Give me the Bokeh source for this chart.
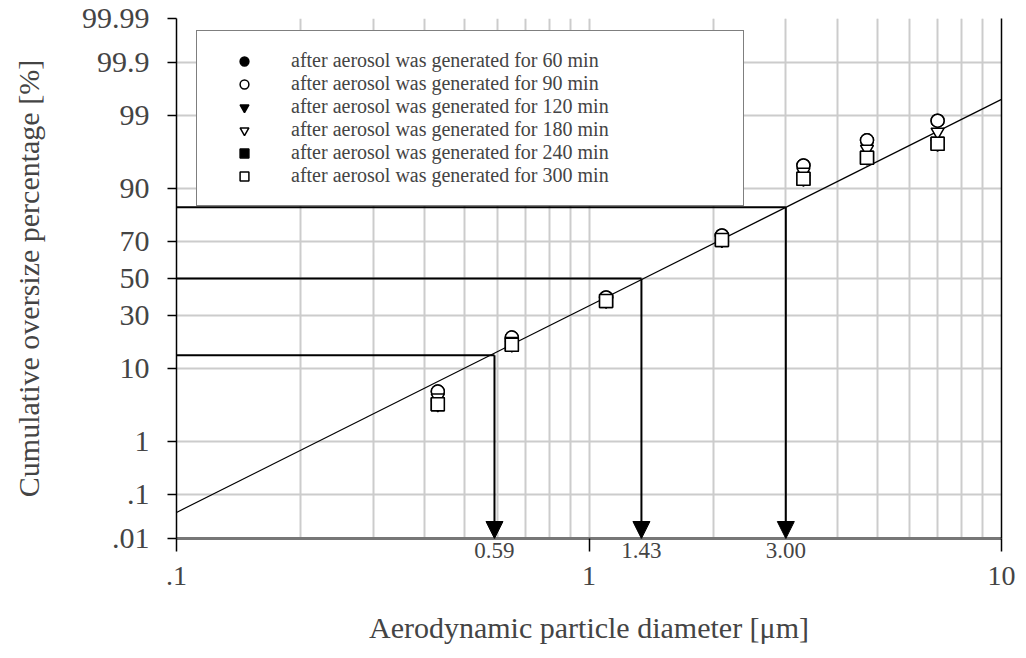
from statistics import NormalDist

from bokeh.plotting import figure
from bokeh.models import (Range1d, FixedTicker, LinearAxis, LogAxis, Legend, LegendItem,
                          Arrow, NormalHead, ColumnDataSource, Grid)
from bokeh.embed import file_html
from bokeh.resources import INLINE

_nd = NormalDist()


def probit(pct):
    return _nd.inv_cdf(pct / 100.0)


# ---------------- data ----------------
diameters = [0.43, 0.65, 1.10, 2.10, 3.31, 4.72, 7.0]

series_names = [
    "after aerosol was generated for 60 min",
    "after aerosol was generated for 90 min",
    "after aerosol was generated for 120 min",
    "after aerosol was generated for 180 min",
    "after aerosol was generated for 240 min",
    "after aerosol was generated for 300 min",
]
pct_60min = [5.3, 19.9, 39.3, 73.1, 94.7, 97.6, 98.8]
pct_90min = [5.3, 19.9, 39.3, 73.1, 94.7, 97.6, 98.8]
pct_120min = [3.6, 17.2, 37.4, 70.9, 92.3, 95.8, 97.3]
pct_180min = [4.4, 18.5, 38.3, 72.0, 93.6, 96.8, 98.2]
pct_240min = [3.6, 17.2, 37.4, 70.9, 92.3, 95.8, 97.3]
pct_300min = [3.6, 17.2, 37.4, 70.9, 92.3, 95.8, 97.3]
series_values = [pct_60min, pct_90min, pct_120min, pct_180min, pct_240min, pct_300min]

# fitted log-normal line (end points)
fit_d = [0.1, 10.0]
fit_pct = [0.041, 99.48]

# characteristic diameters marked with arrows
mark_d = [0.59, 1.34, 3.00]
mark_pct = [13.6, 50.0, 84.6]
mark_labels = ["0.59", "1.43", "3.00"]

y_tick_pct = [0.01, 0.1, 1, 10, 30, 50, 70, 90, 99, 99.9, 99.99]
y_tick_labels = [".01", ".1", "1", "10", "30", "50", "70", "90", "99", "99.9", "99.99"]
x_tick_values = [0.1, 1, 10]
x_tick_labels = [".1", "1", "10"]
x_minor_values = [0.2, 0.3, 0.4, 0.5, 0.6, 0.7, 0.8, 0.9, 2, 3, 4, 5, 6, 7, 8, 9]

# ---------------- styling ----------------
SERIF = "Liberation Serif"
GRID = "#cccccc"

y_lo, y_hi = probit(y_tick_pct[0]), probit(y_tick_pct[-1])

p = figure(width=1026, height=658, x_axis_type="log", x_axis_location=None,
           x_range=Range1d(x_tick_values[0], x_tick_values[-1]),
           y_range=Range1d(y_lo, y_hi),
           output_backend="svg", toolbar_location=None,
           min_border_left=176, min_border_right=25,
           min_border_top=18, min_border_bottom=120)
p.outline_line_color = None
p.background_fill_color = "white"

# x axis, inner part: axis line, decade ticks (as minor ticks) and the small labels
xa_in = LogAxis(ticker=FixedTicker(ticks=mark_d, minor_ticks=x_tick_values))
xa_in.major_label_overrides = {v: s for v, s in zip(mark_d, mark_labels)}
xa_in.major_label_text_font = SERIF
xa_in.major_label_text_font_size = "23px"
xa_in.major_label_standoff = -9
xa_in.major_tick_line_color = None
xa_in.major_tick_out = 0
xa_in.major_tick_in = 0
xa_in.minor_tick_line_color = "black"
xa_in.minor_tick_line_width = 1.5
xa_in.minor_tick_out = 13
xa_in.minor_tick_in = 0
xa_in.axis_line_color = "#777777"
xa_in.axis_line_width = 3
p.add_layout(xa_in, "below")

# x axis, outer part: decade labels and axis title
xa = LogAxis(ticker=FixedTicker(ticks=x_tick_values))
xa.major_label_overrides = {v: s for v, s in zip(x_tick_values, x_tick_labels)}
xa.axis_label = "Aerodynamic particle diameter [\u03bcm]"
xa.axis_label_text_font = SERIF
xa.axis_label_text_font_style = "normal"
xa.axis_label_text_font_size = "30px"
xa.axis_label_standoff = 23
xa.major_label_text_font = SERIF
xa.major_label_text_font_size = "28px"
xa.major_label_standoff = 6
xa.major_tick_out = 0
xa.major_tick_in = 0
xa.major_tick_line_color = None
xa.minor_tick_line_color = None
xa.axis_line_color = None
p.add_layout(xa, "below")

# y axis (probability scale)
ya = p.yaxis[0]
y_tick_z = [probit(v) for v in y_tick_pct]
ya.ticker = FixedTicker(ticks=y_tick_z)
ya.major_label_overrides = {z: s for z, s in zip(y_tick_z, y_tick_labels)}
ya.axis_label = "Cumulative oversize percentage [%]"
ya.axis_label_text_font = SERIF
ya.axis_label_text_font_style = "normal"
ya.axis_label_text_font_size = "30px"
ya.axis_label_standoff = 34
ya.major_label_text_font = SERIF
ya.major_label_text_font_size = "30px"
ya.major_label_standoff = 18
ya.major_tick_out = 9
ya.major_tick_in = 0
ya.minor_tick_line_color = None
ya.axis_line_color = "black"
ya.axis_line_width = 1.5
ya.major_tick_line_width = 1.5

# right frame edge
ra = LinearAxis(ticker=FixedTicker(ticks=[]), axis_line_color="black", axis_line_width=1.5,
                major_tick_line_color=None, minor_tick_line_color=None,
                major_label_text_font_size="0px")
p.add_layout(ra, "right")

# grid
xgrid = Grid(dimension=0, ticker=FixedTicker(ticks=x_tick_values, minor_ticks=x_minor_values),
             grid_line_color=GRID, grid_line_width=2,
             minor_grid_line_color=GRID, minor_grid_line_width=2)
p.add_layout(xgrid)
p.ygrid.grid_line_color = GRID
p.ygrid.grid_line_width = 2

# fitted line
p.line(x=fit_d, y=[probit(v) for v in fit_pct], line_color="black", line_width=1.2)

# guide lines: horizontal from left edge to the fit, then arrow down to the axis
mark_z = [probit(v) for v in mark_pct]
p.segment(x0=[x_tick_values[0]] * len(mark_d), y0=mark_z, x1=mark_d, y1=mark_z,
          line_color="black", line_width=2)
arrow_src = ColumnDataSource(dict(x=mark_d, ys=mark_z, ye=[y_lo] * len(mark_d)))
p.add_layout(Arrow(source=arrow_src, x_start="x", y_start="ys", x_end="x", y_end="ye",
                   line_color="black", line_width=2,
                   end=NormalHead(size=17, fill_color="black", line_color="black")))

# data series (filled markers drawn first, open ones on top)
marker_specs = [
    ("circle", "black"),
    ("circle", "white"),
    ("inverted_triangle", "black"),
    ("inverted_triangle", "white"),
    ("square", "black"),
    ("square", "white"),
]
renderers = [None] * len(series_names)
draw_order = [0, 2, 4, 1, 3, 5]
for i in draw_order:
    mk, fc = marker_specs[i]
    src = ColumnDataSource(dict(d=diameters, z=[probit(v) for v in series_values[i]]))
    renderers[i] = p.scatter(x="d", y="z", source=src, marker=mk, size=13,
                             fill_color=fc, line_color="black", line_width=1.5)
items = [LegendItem(label=n, renderers=[r]) for n, r in zip(series_names, renderers)]

legend = Legend(items=items, location=(20, 332), padding=18, margin=0,
                glyph_width=58, glyph_height=22, label_height=22, spacing=0,
                label_width=434, label_standoff=18,
                label_text_font=SERIF, label_text_font_size="20px",
                label_text_line_height=1.0,
                border_line_color="black", border_line_width=1.5,
                background_fill_color="white", background_fill_alpha=1.0)
p.add_layout(legend)

open("out.html", "w").write(file_html(p, INLINE))
